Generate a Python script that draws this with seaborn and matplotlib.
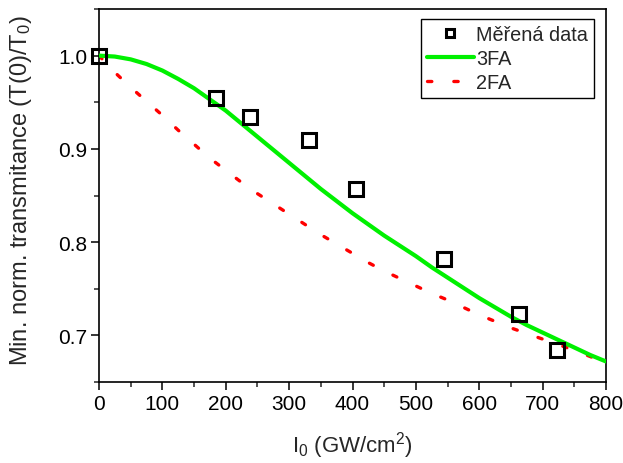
import matplotlib
matplotlib.use("Agg")
import matplotlib.pyplot as plt
import seaborn as sns
import pandas as pd

# measured data
meas_x = [0, 184, 238, 332, 406, 544, 662, 722]
meas_y = [1.000, 0.955, 0.934, 0.909, 0.857, 0.782, 0.723, 0.684]

# 3FA model curve
fa3_x = [0, 25, 50, 75, 100, 125, 150, 175, 200, 225, 250, 275, 300, 325, 350, 375, 400,
         425, 450, 475, 500, 525, 550, 575, 600, 625, 650, 675, 700, 725, 750, 775, 800]
fa3_y = [1.000, 0.999, 0.996, 0.991, 0.984, 0.975, 0.965, 0.953, 0.941, 0.927, 0.913,
         0.899, 0.885, 0.871, 0.857, 0.844, 0.831, 0.819, 0.807, 0.796, 0.785, 0.773,
         0.762, 0.751, 0.740, 0.730, 0.720, 0.711, 0.703, 0.695, 0.687, 0.679, 0.672]

# 2FA model curve
fa2_x = [0, 25, 50, 75, 100, 125, 150, 175, 200, 225, 250, 275, 300, 325, 350, 375, 400,
         425, 450, 475, 500, 525, 550, 575, 600, 625, 650, 675, 700, 725, 750, 780]
fa2_y = [1.000, 0.982, 0.966, 0.951, 0.936, 0.920, 0.905, 0.890, 0.877, 0.864, 0.852,
         0.841, 0.830, 0.819, 0.808, 0.798, 0.788, 0.778, 0.769, 0.761, 0.753, 0.745,
         0.738, 0.730, 0.722, 0.715, 0.708, 0.702, 0.696, 0.690, 0.684, 0.676]

x_ticks = [0, 100, 200, 300, 400, 500, 600, 700, 800]
y_ticks = [0.7, 0.8, 0.9, 1.0]

sns.set_style("ticks")
plt.rcParams["font.family"] = ["Liberation Sans", "DejaVu Sans"]
plt.rcParams["mathtext.fontset"] = "custom"
plt.rcParams["mathtext.rm"] = "Liberation Sans"
plt.rcParams["mathtext.it"] = "Liberation Sans:italic"

fig = plt.figure(figsize=(6.23, 4.64), dpi=100)
ax = fig.add_axes([99 / 623, 1 - 383 / 464, (606 - 99) / 623, (383 - 10) / 464])

df3 = pd.DataFrame({"x": fa3_x, "y": fa3_y})
df2 = pd.DataFrame({"x": fa2_x, "y": fa2_y})

sns.lineplot(data=df2, x="x", y="y", ax=ax, color="#ff0000", linewidth=2.4,
             label="2FA", zorder=2)
l2 = ax.lines[-1]
l2.set_dashes((1.3, 6.6))
l2.set_dash_capstyle("round")
sns.lineplot(data=df3, x="x", y="y", ax=ax, color="#00f000", linewidth=3.0,
             label="3FA", zorder=3)
ax.plot(meas_x, meas_y, linestyle="none", marker="s", markersize=10.5,
        markerfacecolor="none", markeredgecolor="black", markeredgewidth=2.2,
        label="Měřená data", zorder=4, clip_on=False)

ax.set_xlim(0, 800)
ax.set_ylim(0.65, 1.05)
ax.set_xticks(x_ticks)
ax.set_yticks(y_ticks)
ax.set_xticks([50, 150, 250, 350, 450, 550, 650, 750], minor=True)
ax.set_yticks([0.65, 0.75, 0.85, 0.95, 1.05], minor=True)
ax.set_yticklabels([f"{v:.1f}" for v in y_ticks])
ax.tick_params(axis="both", which="major", direction="out", length=6, width=1.1,
               labelsize=15, colors="black", pad=2.5)
ax.tick_params(axis="both", which="minor", direction="out", length=3.5, width=1.1)
for s in ax.spines.values():
    s.set_visible(True)
    s.set_linewidth(1.2)
    s.set_color("black")

ax.set_xlabel(r"I$_0$ (GW/cm$^2$)", fontsize=16, labelpad=12)
ax.set_ylabel(r"Min. norm. transmitance (T(0)/T$_0$)", fontsize=17)
ax.yaxis.set_label_coords(-0.128, 0.515)

h, l = ax.get_legend_handles_labels()
order = [l.index("Měřená data"), l.index("3FA"), l.index("2FA")]
leg = ax.legend([h[i] for i in order], [l[i] for i in order], loc="upper right",
                bbox_to_anchor=(1 - 12 / 507, 1 - 10 / 373), fontsize=14.3,
                frameon=True, fancybox=False, edgecolor="black", framealpha=1,
                markerscale=0.5, handlelength=2.4, handletextpad=0.1,
                labelspacing=0.25, borderpad=0.3, borderaxespad=0)
leg.get_frame().set_linewidth(1.0)

fig.savefig("out.png", dpi=100)
